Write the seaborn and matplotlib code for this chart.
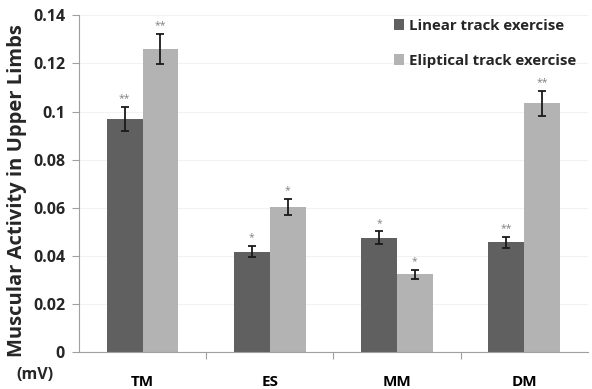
import matplotlib
matplotlib.use("Agg")
import matplotlib.pyplot as plt
import seaborn as sns
import pandas as pd
import numpy as np
from matplotlib.ticker import FixedLocator

categories = ["TM", "ES", "MM", "DM"]
series_names = ["Linear track exercise", "Eliptical track exercise"]
linear_vals = [0.0970, 0.0418, 0.0476, 0.0457]
linear_err = [0.0049, 0.0023, 0.0026, 0.0022]
elliptical_vals = [0.1259, 0.0604, 0.0325, 0.1034]
elliptical_err = [0.0063, 0.0032, 0.0019, 0.0053]
linear_stars = ["**", "*", "*", "**"]
elliptical_stars = ["**", "*", "*", "**"]
y_ticks = [0, 0.02, 0.04, 0.06, 0.08, 0.1, 0.12, 0.14]
y_tick_labels = ["0", "0.02", "0.04", "0.06", "0.08", "0.1", "0.12", "0.14"]

df = pd.DataFrame({
    "category": categories * 2,
    "series": [series_names[0]] * 4 + [series_names[1]] * 4,
    "value": linear_vals + elliptical_vals,
})

sns.set_theme(style="white")
plt.rcParams['font.family'] = ['Open Sans', 'DejaVu Sans']

fig = plt.figure(figsize=(5.92, 3.89), dpi=100)
ax = fig.add_axes([0.1334, 0.0943, 0.8596, 0.8664])

palette = {series_names[0]: "#606060", series_names[1]: "#b3b3b3"}
sns.barplot(data=df, x="category", y="value", hue="series", order=categories,
            hue_order=series_names, palette=palette, width=0.5625, gap=0,
            saturation=1, errorbar=None, ax=ax, edgecolor="none", legend=True)

# error bars and stars from bar patches
conts = ax.containers
for cont, errs, stars in zip(conts, [linear_err, elliptical_err], [linear_stars, elliptical_stars]):
    for bar, e, s in zip(cont, errs, stars):
        xc = bar.get_x() + bar.get_width() / 2
        h = bar.get_height()
        ax.errorbar(xc, h, yerr=e, fmt="none", ecolor="#1a1a1a", elinewidth=1.3,
                    capsize=3, capthick=1.3, zorder=5)
        ax.annotate(s, (xc, h + e), xytext=(0, 2), textcoords="offset points",
                    ha="center", va="bottom", fontsize=7.5, color="#808080")

ax.set_ylim(0, 0.14)
ax.set_xlim(-0.5, 3.5)
ax.set_yticks(y_ticks)
ax.set_yticklabels(y_tick_labels, fontsize=11.5, fontweight="bold")
ax.set_xticks(range(len(categories)))
ax.set_xticklabels(categories, fontsize=11, fontweight="bold")
ax.xaxis.set_minor_locator(FixedLocator([0.5, 1.5, 2.5]))
ax.tick_params(axis="x", which="major", length=0, pad=16, colors="#000000")
ax.tick_params(axis="x", which="minor", length=5, width=0.8, color="#a0a0a0", direction="out", bottom=True)
ax.tick_params(axis="y", which="major", length=5, width=0.8, color="#a0a0a0", direction="out", left=True, pad=5)
ax.grid(axis="y", color="#f2f2f2", linewidth=0.8)
ax.set_axisbelow(True)
for side in ["top", "right"]:
    ax.spines[side].set_visible(False)
for side in ["left", "bottom"]:
    ax.spines[side].set_color("#a0a0a0")
    ax.spines[side].set_linewidth(0.8)

ax.set_xlabel("")
ax.set_ylabel("Muscular Activity in Upper Limbs", fontsize=14.5, fontweight="bold")
ax.yaxis.set_label_coords(-0.102, 0.48)

fig.text(35 / 592, 1 - 375 / 389, "(mV)", ha="center", va="center", fontsize=11.5, fontweight="bold")

leg = ax.legend(loc="upper left", bbox_to_anchor=(0.592, 1.03), frameon=False,
                prop={"weight": "bold", "size": 10.8}, handlelength=0.7, handleheight=0.7,
                labelspacing=1.4, handletextpad=0.35)

fig.savefig("out.png", dpi=100)
